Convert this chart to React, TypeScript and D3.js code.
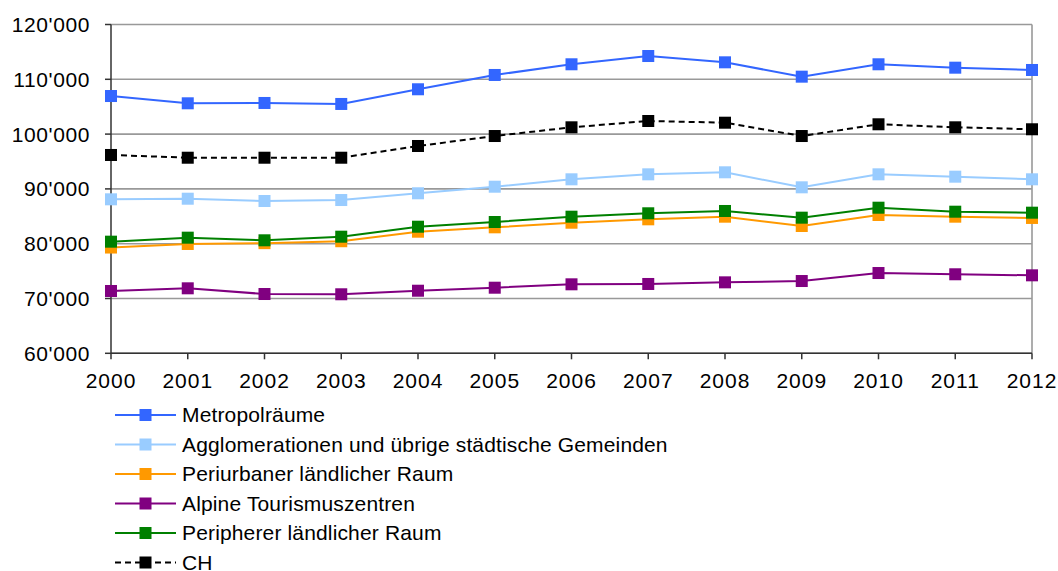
import React from "react";
import * as d3 from "d3";

const years = [2000, 2001, 2002, 2003, 2004, 2005, 2006, 2007, 2008, 2009, 2010, 2011, 2012];
const yTicks = [60000, 70000, 80000, 90000, 100000, 110000, 120000];

const metropol = [106950, 105620, 105680, 105500, 108180, 110790, 112740, 114250, 113100, 110480, 112740, 112120, 111700];
const agglo = [88100, 88210, 87790, 87970, 89200, 90400, 91750, 92660, 93030, 90290, 92660, 92230, 91750];
const periurban = [79300, 79950, 80100, 80450, 82190, 82990, 83830, 84450, 84930, 83230, 85240, 84930, 84700];
const alpine = [71370, 71860, 70820, 70770, 71420, 71970, 72590, 72650, 72950, 73190, 74650, 74420, 74230];
const peripher = [80370, 81100, 80620, 81280, 83100, 83960, 84930, 85550, 85970, 84750, 86570, 85840, 85660];
const ch = [96190, 95690, 95690, 95690, 97830, 99650, 101240, 102390, 102080, 99650, 101790, 101240, 100880];

const seriesNames = [
  "Metropolräume",
  "Agglomerationen und übrige städtische Gemeinden",
  "Periurbaner ländlicher Raum",
  "Alpine Tourismuszentren",
  "Peripherer ländlicher Raum",
  "CH",
];
const seriesValues = [metropol, agglo, periurban, alpine, peripher, ch];
const seriesColors = ["#3366FF", "#99CCFF", "#FF9900", "#800080", "#008000", "#000000"];
const seriesDashed = [false, false, false, false, false, true];

const fmt = (v: number) => {
  const s = String(v);
  return s.slice(0, s.length - 3) + "'" + s.slice(s.length - 3);
};

export default function App() {
  const W = 1058, H = 571;
  const x = d3.scaleLinear().domain([2000, 2012]).range([111, 1032]);
  const y = d3.scaleLinear().domain([60000, 120000]).range([353.3, 24.5]);
  const line = d3
    .line<number>()
    .x((_, i) => x(years[i]))
    .y((d) => y(d));
  const ms = 12;
  const font = "'Liberation Sans', Arial, sans-serif";
  const legendY0 = 415;
  const legendStep = 29.5;

  return (
    <svg
      width={W}
      height={H}
      style={{ position: "absolute", left: 0, top: 0, background: "#fff" }}
      fontFamily={font}
    >
      <rect x={0} y={0} width={W} height={H} fill="#fff" />
      {/* gridlines */}
      {yTicks.map((t) => (
        <line key={t} x1={x(2000)} x2={x(2012)} y1={y(t)} y2={y(t)} stroke="#999" strokeWidth={1.6} />
      ))}
      {/* right border */}
      <line x1={x(2012)} x2={x(2012)} y1={y(120000)} y2={y(60000)} stroke="#999" strokeWidth={1.6} />
      {/* y axis */}
      <line x1={x(2000)} x2={x(2000)} y1={y(120000)} y2={y(60000)} stroke="#333" strokeWidth={1.5} />
      {yTicks.map((t) => (
        <g key={"yt" + t}>
          <line x1={x(2000) - 6} x2={x(2000)} y1={y(t)} y2={y(t)} stroke="#333" strokeWidth={1.5} />
          <text
            x={90}
            y={y(t) + 7.5}
            textAnchor="end"
            fontSize={21}
            letterSpacing={0.6}
            fill="#000"
          >
            {fmt(t)}
          </text>
        </g>
      ))}
      {/* x axis */}
      <line x1={x(2000)} x2={x(2012)} y1={y(60000)} y2={y(60000)} stroke="#333" strokeWidth={1.5} />
      {years.map((yr) => (
        <g key={"xt" + yr}>
          <line x1={x(yr)} x2={x(yr)} y1={y(60000)} y2={y(60000) + 6} stroke="#333" strokeWidth={1.5} />
          <text x={x(yr)} y={388} textAnchor="middle" fontSize={21} letterSpacing={1} fill="#000">
            {yr}
          </text>
        </g>
      ))}
      {/* series */}
      {seriesValues.map((vals, si) => (
        <g key={"s" + si}>
          <path
            d={line(vals) || ""}
            fill="none"
            stroke={seriesColors[si]}
            strokeWidth={2}
            strokeDasharray={seriesDashed[si] ? "6,4" : undefined}
          />
          {vals.map((v, i) => (
            <rect
              key={i}
              x={x(years[i]) - ms / 2}
              y={y(v) - ms / 2}
              width={ms}
              height={ms}
              fill={seriesColors[si]}
            />
          ))}
        </g>
      ))}
      {/* legend */}
      {seriesNames.map((name, si) => {
        const ly = legendY0 + si * legendStep;
        return (
          <g key={"l" + si}>
            <line
              x1={115}
              x2={176}
              y1={ly}
              y2={ly}
              stroke={seriesColors[si]}
              strokeWidth={2}
              strokeDasharray={seriesDashed[si] ? "6,4" : undefined}
            />
            <rect x={145.5 - 6} y={ly - 6} width={12} height={12} fill={seriesColors[si]} />
            <text x={182} y={ly + 7} fontSize={21} letterSpacing={0.15} fill="#000">
              {name}
            </text>
          </g>
        );
      })}
    </svg>
  );
}
